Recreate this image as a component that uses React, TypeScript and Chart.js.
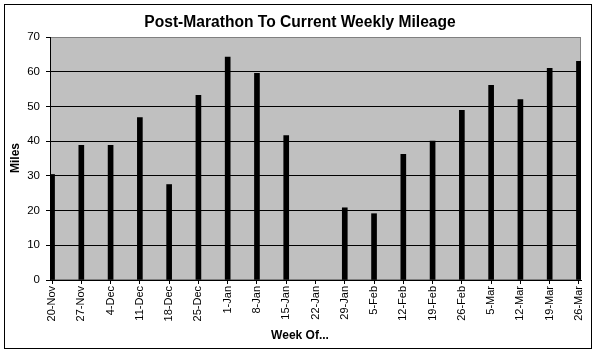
import React, { useEffect, useRef } from "react";
import { Chart, registerables } from "chart.js";

Chart.register(...registerables);

const weeks: string[] = [
  "20-Nov", "27-Nov", "4-Dec", "11-Dec", "18-Dec", "25-Dec", "1-Jan", "8-Jan",
  "15-Jan", "22-Jan", "29-Jan", "5-Feb", "12-Feb", "19-Feb", "26-Feb", "5-Mar",
  "12-Mar", "19-Mar", "26-Mar",
];
const miles: number[] = [
  30.4, 38.8, 38.8, 46.8, 27.5, 53.2, 64.2, 59.5, 41.6, 0, 20.8, 19.1, 36.2,
  40.0, 48.9, 56.1, 52.0, 61.0, 63.0,
];
const yTicks: number[] = [0, 10, 20, 30, 40, 50, 60, 70];

const chartTitle = "Post-Marathon To Current Weekly Mileage";
const yTitle = "Miles";
const xTitle = "Week Of...";

const FONT = "Arial, 'Liberation Sans', sans-serif";
const W = 595;
const H = 353;

const decor = {
  id: "decor",
  beforeDraw(chart: any) {
    const { ctx, chartArea: a } = chart;
    ctx.save();
    ctx.fillStyle = "#ffffff";
    ctx.fillRect(0, 0, W, H);
    ctx.fillStyle = "#c0c0c0";
    ctx.fillRect(a.left, a.top, a.right - a.left, a.bottom - a.top);
    ctx.strokeStyle = "#808080";
    ctx.lineWidth = 1;
    ctx.strokeRect(a.left + 0.5, a.top + 0.5, a.right - a.left - 1, a.bottom - a.top - 1);
    ctx.strokeStyle = "#000000";
    ctx.strokeRect(4.5, 4.5, 587, 344);
    ctx.fillStyle = "#000000";
    ctx.textAlign = "center";
    ctx.textBaseline = "alphabetic";
    ctx.font = `bold 15.6px ${FONT}`;
    ctx.fillText(chartTitle, 300, 27);
    ctx.font = `bold 12px ${FONT}`;
    ctx.textBaseline = "middle";
    ctx.fillText(xTitle, 300, 336);
    ctx.translate(15.5, 158);
    ctx.rotate(-Math.PI / 2);
    ctx.fillText(yTitle, 0, 0);
    ctx.restore();
  },
};

export default function App() {
  const ref = useRef<HTMLCanvasElement | null>(null);
  useEffect(() => {
    if (!ref.current) return;
    const chart = new Chart(ref.current, {
      type: "bar",
      data: {
        datasets: [
          {
            data: miles.map((y, i) => ({ x: i, y })),
            backgroundColor: (c: any) =>
              c.raw && c.raw.y === 0 ? "rgba(0,0,0,0)" : "#000000",
            borderWidth: 0,
            barThickness: 5,
          },
        ],
      },
      options: {
        responsive: false,
        animation: false,
        layout: { padding: { top: 37, right: 14, bottom: 0, left: 0 } },
        plugins: {
          legend: { display: false },
          title: { display: false },
          tooltip: { enabled: false },
        },
        scales: {
          x: {
            type: "linear",
            offset: false,
            min: -0.07,
            max: 18.07,
            afterBuildTicks: (s: any) => {
              s.ticks = weeks.map((_, i) => ({ value: i }));
            },
            afterFit: (s: any) => {
              s.height = 73;
            },
            ticks: {
              autoSkip: false,
              minRotation: 90,
              maxRotation: 90,
              padding: 2,
              color: "#000000",
              font: { family: FONT, size: 11 },
              callback: (v: any) => weeks[Math.round(Number(v))] ?? "",
            },
            grid: {
              offset: false,
              drawOnChartArea: false,
              drawTicks: true,
              tickLength: 4,
              tickColor: "#000000",
            },
            border: { display: true, color: "#000000", width: 1 },
          },
          y: {
            min: 0,
            max: 70,
            afterBuildTicks: (s: any) => {
              s.ticks = yTicks.map((v) => ({ value: v }));
            },
            afterFit: (s: any) => {
              s.width = 50;
            },
            ticks: {
              color: "#000000",
              padding: 6,
              font: { family: FONT, size: 11.5 },
            },
            grid: {
              color: (c: any) => (c.tick && c.tick.value === 70 ? "#808080" : "#000000"),
              tickColor: "#000000",
              tickLength: 4,
              lineWidth: 1,
            },
            border: { display: true, color: "#000000", width: 1 },
          },
        },
      },
      plugins: [decor],
    } as any);
    return () => chart.destroy();
  }, []);
  return (
    <div style={{ position: "fixed", left: 0, top: 0, width: W, height: H, background: "#fff" }}>
      <canvas ref={ref} width={W} height={H} style={{ display: "block" }} />
    </div>
  );
}
